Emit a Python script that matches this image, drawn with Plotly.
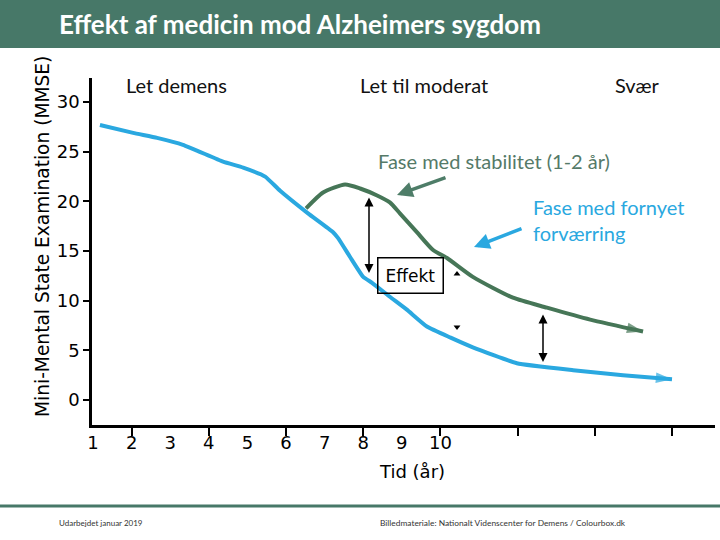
import plotly.graph_objects as go

# ---------------- data ----------------
years_untreated = [1.18, 2.04, 2.66, 3.33, 4.37, 4.89, 5.46, 5.84, 6.57, 7.22, 7.35, 7.66,
                   8.0, 8.23, 8.69, 9.13, 9.65, 10.25, 10.84, 11.98, 13.44, 14.73, 16.0]
mmse_untreated = [27.7, 26.9, 26.4, 25.7, 24.0, 23.4, 22.5, 21.1, 18.8, 16.9, 16.3, 14.4,
                  12.4, 11.8, 10.4, 9.1, 7.4, 6.3, 5.3, 3.7, 3.0, 2.5, 2.1]

years_treated = [6.52, 6.96, 7.53, 7.92, 8.36, 8.69, 8.95, 9.39, 9.81, 10.17, 10.84,
                 11.88, 12.76, 13.88, 15.25]
mmse_treated = [19.3, 20.9, 21.7, 21.3, 20.6, 19.9, 18.8, 16.9, 15.1, 14.3, 12.4,
                10.3, 9.3, 8.1, 6.9]

x_tick_labels = [1, 2, 3, 4, 5, 6, 7, 8, 9, 10]
x_tick_marks = [2, 4, 6, 8, 10, 12, 14, 16]
y_ticks = [0, 5, 10, 15, 20, 25, 30]

marker_x = [10.43, 10.43]
marker_y = [12.7, 7.35]

BLUE = "#2aa8e0"
GREEN = "#467657"
BAR = "#477868"

# ---------------- layout helpers (pixel -> paper / data) ----------------
L, T, W, H = 92, 78, 623, 347


def px(xp):
    return (xp - L) / W


def py(yp):
    return 1 - (yp - T) / H


def dx(xp):
    return 1 + (xp - 93) / 38.6


def dy(yp):
    return (400 - yp) / 9.93


fig = go.Figure()


def end_arrow_sizes(n, s):
    return [0] * (n - 1) + [s]


fig.add_trace(go.Scatter(
    x=years_untreated, y=mmse_untreated, mode="lines+markers",
    line=dict(color=BLUE, width=4, shape="spline", smoothing=0.4),
    marker=dict(symbol="arrow", size=end_arrow_sizes(len(years_untreated), 17),
                color=BLUE, angleref="previous", line=dict(width=0)),
    hoverinfo="skip", showlegend=False))

fig.add_trace(go.Scatter(
    x=years_treated, y=mmse_treated, mode="lines+markers",
    line=dict(color=GREEN, width=4, shape="spline", smoothing=0.6),
    marker=dict(symbol="arrow", size=end_arrow_sizes(len(years_treated), 17),
                color=GREEN, angleref="previous", line=dict(width=0)),
    hoverinfo="skip", showlegend=False))

fig.add_trace(go.Scatter(
    x=marker_x, y=marker_y, mode="markers",
    marker=dict(symbol=["triangle-up", "triangle-down"], size=6, color="black"),
    hoverinfo="skip", showlegend=False))

CAL = "Lato, 'Open Sans', sans-serif"
TAH = "'DejaVu Sans', Verdana, sans-serif"

ann = []
# Title
ann.append(dict(xref="paper", yref="paper", x=px(57), y=py(24), xanchor="left", yanchor="middle",
                text="Effekt af medicin mod Alzheimers sygdom", showarrow=False,
                font=dict(family=CAL, size=26, color="white", weight="bold")))
# Stage labels
for txt, xl in [("Let demens", 124), ("Let til moderat", 358), ("Svær", 613)]:
    ann.append(dict(xref="paper", yref="paper", x=px(xl), y=py(85), xanchor="left", yanchor="middle",
                    text=txt, showarrow=False, font=dict(family=CAL, size=20, color="#111111")))
# Phase labels
ann.append(dict(xref="paper", yref="paper", x=px(376), y=py(161), xanchor="left", yanchor="middle",
                text="Fase med stabilitet (1-2 år)", showarrow=False,
                font=dict(family=CAL, size=20, color="#557a68")))
ann.append(dict(xref="paper", yref="paper", x=px(531), y=py(220), xanchor="left", yanchor="middle",
                text="Fase med fornyet<br>forværring", showarrow=False, align="left",
                font=dict(family=CAL, size=20, color=BLUE)))
# Pointer arrows
ann.append(dict(xref="x", yref="y", axref="x", ayref="y", x=dx(397), y=dy(195), ax=dx(447), ay=dy(177),
                text="", showarrow=True, arrowhead=2, arrowsize=0.9, arrowwidth=3.5, arrowcolor="#4e7d68"))
ann.append(dict(xref="x", yref="y", axref="x", ayref="y", x=dx(474), y=dy(247), ax=dx(523), ay=dy(228),
                text="", showarrow=True, arrowhead=2, arrowsize=0.9, arrowwidth=3.5, arrowcolor=BLUE))
# Double arrows (effect)
ann.append(dict(xref="x", yref="y", axref="x", ayref="y", x=dx(369), y=dy(273), ax=dx(369), ay=dy(196),
                text="", showarrow=True, arrowhead=2, startarrowhead=2, arrowside="end+start",
                arrowsize=1.2, startarrowsize=1.2, arrowwidth=1.5, arrowcolor="black"))
ann.append(dict(xref="x", yref="y", axref="x", ayref="y", x=dx(543), y=dy(362), ax=dx(543), ay=dy(313),
                text="", showarrow=True, arrowhead=2, startarrowhead=2, arrowside="end+start",
                arrowsize=1.2, startarrowsize=1.2, arrowwidth=1.5, arrowcolor="black"))
# Effekt box
ann.append(dict(xref="paper", yref="paper", x=px(410), y=py(275), xanchor="center", yanchor="middle",
                text="Effekt", showarrow=False, width=62, height=32, borderpad=1,
                bordercolor="black", borderwidth=1.5,
                font=dict(family=TAH, size=17, color="black")))
# Axis titles
ann.append(dict(xref="paper", yref="paper", x=px(412), y=py(471), xanchor="center", yanchor="middle",
                text="Tid (år)", showarrow=False, font=dict(family=TAH, size=18, color="black")))
ann.append(dict(xref="paper", yref="paper", x=px(42), y=py(237), xanchor="center", yanchor="middle",
                text="Mini-Mental State Examination (MMSE)", textangle=-90, showarrow=False,
                font=dict(family=TAH, size=18.6, color="black")))
# Footer
ann.append(dict(xref="paper", yref="paper", x=px(57), y=py(523), xanchor="left", yanchor="middle",
                text="Udarbejdet januar 2019", showarrow=False,
                font=dict(family=CAL, size=8, color="#333333")))
ann.append(dict(xref="paper", yref="paper", x=px(378), y=py(523), xanchor="left", yanchor="middle",
                text="Billedmateriale: Nationalt Videnscenter for Demens / Colourbox.dk", showarrow=False,
                font=dict(family=CAL, size=8.4, color="#333333")))

shapes = [
    dict(type="rect", xref="paper", yref="paper", x0=px(0), x1=px(720), y0=py(48), y1=py(0),
         fillcolor=BAR, line=dict(width=0), layer="below"),
    dict(type="line", xref="paper", yref="paper", x0=px(0), x1=px(720), y0=py(506), y1=py(506),
         line=dict(color=BAR, width=3)),
]

fig.update_layout(
    width=720, height=540,
    margin=dict(l=L, r=720 - L - W, t=T, b=540 - T - H),
    paper_bgcolor="white", plot_bgcolor="white",
    annotations=ann, shapes=shapes,
    xaxis=dict(range=[dx(92), dx(715)], showgrid=False, zeroline=False,
               showline=True, linecolor="black", linewidth=2.5,
               tickmode="array", tickvals=x_tick_labels, ticktext=[str(v) for v in x_tick_labels],
               ticks="outside", ticklen=0, tickcolor="rgba(0,0,0,0)",
               tickfont=dict(family=TAH, size=18, color="black"),
               minor=dict(tickmode="array", tickvals=x_tick_marks, ticks="outside",
                          ticklen=8, tickwidth=2, tickcolor="black", showgrid=False)),
    yaxis=dict(range=[dy(425), dy(78)], showgrid=False, zeroline=False,
               showline=True, linecolor="black", linewidth=2.5,
               tickmode="array", tickvals=y_ticks, ticks="outside", ticklen=6, tickwidth=1.5,
               tickcolor="black", tickfont=dict(family=TAH, size=18, color="black")),
)

fig.write_html("out.html", config={"displayModeBar": False},
               post_script="document.body.style.margin='0px';")
